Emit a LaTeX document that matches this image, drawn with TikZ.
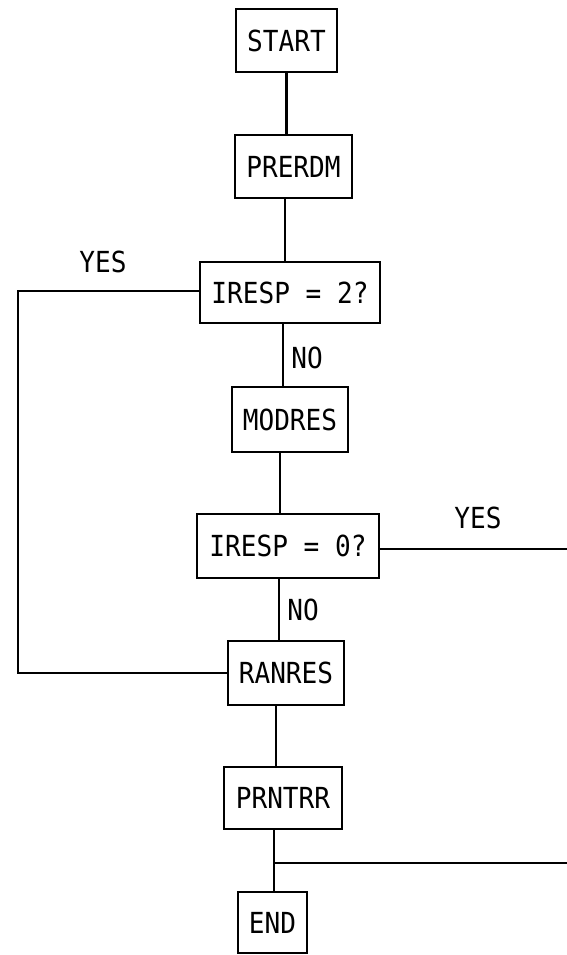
\documentclass[tikz,border=0pt]{standalone}
\usepackage{fontspec}
\newfontfamily\flowfont[FakeStretch=0.9]{DejaVu Sans Mono}
\begin{document}
\begin{tikzpicture}[x=1pt,y=-1pt,
  box/.style={draw,line width=2.6pt,inner sep=0pt,font=\flowfont\fontsize{29}{29}\selectfont},
  lbl/.style={inner sep=0pt,font=\flowfont\fontsize{29}{29}\selectfont},
  conn/.style={line width=2.4pt}]
\useasboundingbox (0,0) rectangle (567,955);
\node[box,minimum width=101pt,minimum height=63pt] (start) at (286.5,40.5) {START};
\node[box,minimum width=117pt,minimum height=63pt] (prerdm) at (293.5,166.5) {PRERDM};
\node[box,minimum width=180pt,minimum height=61pt] (q2) at (290,292.5) {IRESP = 2?};
\node[box,minimum width=116pt,minimum height=65pt] (modres) at (290,419.5) {MODRES};
\node[box,minimum width=182pt,minimum height=64pt] (q0) at (288,546) {IRESP = 0?};
\node[box,minimum width=116pt,minimum height=64pt] (ranres) at (286,673) {RANRES};
\node[box,minimum width=118pt,minimum height=62pt] (prntrr) at (283,798) {PRNTRR};
\node[box,minimum width=69pt,minimum height=61pt] (end) at (272.5,922.5) {END};
\node[lbl] (yes1) at (103,262) {YES};
\node[lbl] (no1) at (307,358) {NO};
\node[lbl] (yes2) at (478,518) {YES};
\node[lbl] (no2) at (303,610) {NO};
\coordinate (lc1) at (18,291);
\coordinate (rc1) at (567,549);
\coordinate (rc2) at (567,863);
\coordinate (j) at (274,863);
\draw[conn] (start.south) -- (start.south |- prerdm.north);
\draw[conn] ([xshift=-8.5pt]prerdm.south) -- ([xshift=-8.5pt]prerdm.south |- q2.north);
\draw[conn] ([xshift=-7pt]q2.south) -- ([xshift=-7pt]q2.south |- modres.north);
\draw[conn] ([xshift=-10pt]modres.south) -- ([xshift=-10pt]modres.south |- q0.north);
\draw[conn] ([xshift=-9pt]q0.south) -- ([xshift=-9pt]q0.south |- ranres.north);
\draw[conn] ([xshift=-10pt]ranres.south) -- ([xshift=-10pt]ranres.south |- prntrr.north);
\draw[conn] ([xshift=-9pt]prntrr.south) -- ([xshift=-9pt]prntrr.south |- end.north);
\draw[conn] (q2.west |- lc1) -- (lc1) |- (ranres.west);
\draw[conn] (q0.east |- rc1) -- (rc1);
\draw[conn] (j) -- (rc2);
\end{tikzpicture}
\end{document}
